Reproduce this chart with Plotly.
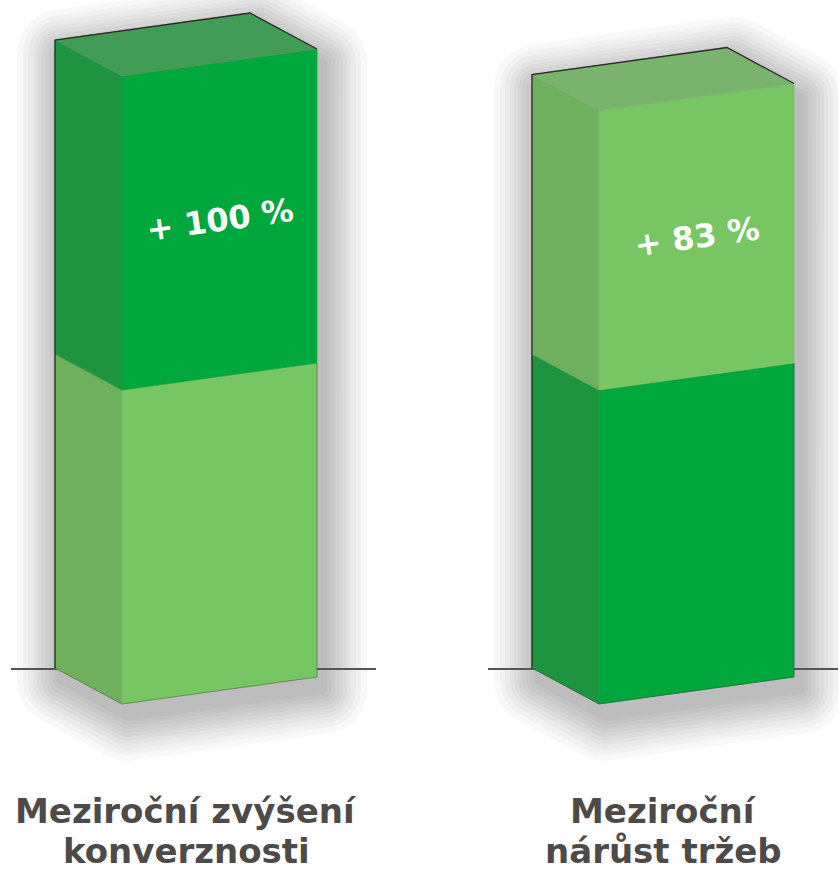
import math
import plotly.graph_objects as go

# ---------------- data ----------------
categories = ["Meziroční zvýšení konverznosti", "Meziroční nárůst tržeb"]
label_lines = [["Meziroční zvýšení", "konverznosti"], ["Meziroční", "nárůst tržeb"]]
base_values = [100, 100]
growth_values = [100, 89]
growth_labels = ["+ 100 %", "+ 83 %"]

# ---------------- layout constants ----------------
W, H = 838, 871
PX_X = 477.0      # pixels per category step
X0_PX = 186.0     # pixel position of first category centre
S = 3.14          # pixels per value unit
BASE_PX = 668.0   # pixel row of value 0

# box corner offsets in pixels from back-left corner (dy positive = down)
BL = (0, 0)
FL = (67, 36)
FR = (262, 9)
BR = (195, -27)
HALF = 131

LIGHT = dict(front="#78C564", side="#6EB05D", top="#7AB36E")
DARK = dict(front="#00A73D", side="#1E9440", top="#439C56")
seg_colors = [[LIGHT, DARK], [DARK, LIGHT]]


def pt(i, v, off, shift=(0, 0)):
    x = i + (-HALF + off[0] + shift[0]) / PX_X
    y = v - (off[1] + shift[1]) / S
    return x, y


def poly(points):
    xs = [p[0] for p in points] + [points[0][0]]
    ys = [p[1] for p in points] + [points[0][1]]
    return xs, ys


def hull(points):
    pts = sorted(set(points))
    if len(pts) <= 2:
        return pts

    def cross(o, a, b):
        return (a[0] - o[0]) * (b[1] - o[1]) - (a[1] - o[1]) * (b[0] - o[0])
    lower, upper = [], []
    for p in pts:
        while len(lower) >= 2 and cross(lower[-2], lower[-1], p) <= 0:
            lower.pop()
        lower.append(p)
    for p in reversed(pts):
        while len(upper) >= 2 and cross(upper[-2], upper[-1], p) <= 0:
            upper.pop()
        upper.append(p)
    return lower[:-1] + upper[:-1]


fig = go.Figure()

# soft shadows (dilated silhouettes, computed in pixel offsets then mapped)
for i, cat in enumerate(categories):
    top = base_values[i] + growth_values[i]
    top_px = top * S
    sil = [(BL[0], BL[1]), (FL[0], FL[1]), (FR[0], FR[1]),
           (FR[0], FR[1] - top_px), (BR[0], BR[1] - top_px), (BL[0], BL[1] - top_px)]
    shift = (6, 13)
    radii = [44, 38, 33, 28, 24, 20, 16, 12, 8, 4]
    for r in radii:
        pts = []
        for (dx, dy) in sil:
            for k in range(24):
                t = 2 * math.pi * k / 24
                pts.append((round(dx + shift[0] + r * math.cos(t), 3),
                            round(dy + shift[1] + r * math.sin(t), 3)))
        hp = hull(pts)
        mapped = [pt(i, 0, p) for p in hp]
        xs, ys = poly(mapped)
        fig.add_trace(go.Scatter(x=xs, y=ys, mode="lines", fill="toself",
                                 fillcolor="rgba(0,0,0,0.026)",
                                 line=dict(width=0),
                                 hoverinfo="skip", showlegend=False))

# baselines
for i, cat in enumerate(categories):
    x_a = i + (-175) / PX_X
    x_b = i + (190) / PX_X
    fig.add_trace(go.Scatter(x=[x_a, x_b], y=[-1 / S, -1 / S], mode="lines",
                             line=dict(width=2, color="#555555"),
                             hoverinfo="skip", showlegend=False))

# boxes
for i, cat in enumerate(categories):
    segs = [(0, base_values[i]), (base_values[i], base_values[i] + growth_values[i])]
    for s, (v0, v1) in enumerate(segs):
        c = seg_colors[i][s]
        side = [pt(i, v0, BL), pt(i, v0, FL), pt(i, v1, FL), pt(i, v1, BL)]
        front = [pt(i, v0, FL), pt(i, v0, FR), pt(i, v1, FR), pt(i, v1, FL)]
        for face, col in [(side, c["side"]), (front, c["front"])]:
            xs, ys = poly(face)
            fig.add_trace(go.Scatter(x=xs, y=ys, mode="lines", fill="toself",
                                     fillcolor=col, line=dict(width=0.6, color=col),
                                     hoverinfo="skip", showlegend=False))
        if s == len(segs) - 1:
            topf = [pt(i, v1, BL), pt(i, v1, BR), pt(i, v1, FR), pt(i, v1, FL)]
            xs, ys = poly(topf)
            fig.add_trace(go.Scatter(x=xs, y=ys, mode="lines", fill="toself",
                                     fillcolor=c["top"], line=dict(width=0.6, color=c["top"]),
                                     hoverinfo="skip", showlegend=False))
    topv = base_values[i] + growth_values[i]
    edge = [pt(i, 0, BL), pt(i, topv, BL), pt(i, topv, BR), pt(i, topv, FR)]
    fig.add_trace(go.Scatter(x=[p[0] for p in edge], y=[p[1] for p in edge], mode="lines",
                             line=dict(width=1.3, color="#2a2a2a"),
                             hoverinfo="skip", showlegend=False))
    right = [pt(i, 0, FR), pt(i, base_values[i], FR)]
    fig.add_trace(go.Scatter(x=[p[0] for p in right], y=[p[1] for p in right], mode="lines",
                             line=dict(width=0.8, color="rgba(60,60,60,0.55)"),
                             hoverinfo="skip", showlegend=False))
    bottom = [pt(i, 0, BL), pt(i, 0, FL), pt(i, 0, FR)]
    fig.add_trace(go.Scatter(x=[p[0] for p in bottom], y=[p[1] for p in bottom], mode="lines",
                             line=dict(width=0.8, color="rgba(40,40,40,0.45)"),
                             hoverinfo="skip", showlegend=False))

annotations = []
for i, cat in enumerate(categories):
    v_mid = base_values[i] + growth_values[i] / 2
    cx, cy = pt(i, v_mid, ((FL[0] + FR[0]) / 2, (FL[1] + FR[1]) / 2))
    annotations.append(dict(x=cx, y=cy, text="<b>%s</b>" % growth_labels[i],
                            showarrow=False, textangle=-8,
                            font=dict(family="DejaVu Sans", size=32, color="white"),
                            xanchor="center", yanchor="middle"))
    for j, line in enumerate(label_lines[i]):
        py = 811 + 40 * j
        annotations.append(dict(x=i, y=(BASE_PX - py) / S, text="<b>%s</b>" % line,
                                showarrow=False,
                                font=dict(family="DejaVu Sans", size=34, color="#4D4A48"),
                                xanchor="center", yanchor="middle"))

fig.update_layout(
    width=W, height=H, margin=dict(l=0, r=0, t=0, b=0),
    paper_bgcolor="white", plot_bgcolor="white",
    xaxis=dict(range=[(0 - X0_PX) / PX_X, (W - X0_PX) / PX_X], visible=False, fixedrange=True),
    yaxis=dict(range=[(BASE_PX - H) / S, BASE_PX / S], visible=False, fixedrange=True),
    annotations=annotations,
    showlegend=False,
)

fig.write_html("out.html")
